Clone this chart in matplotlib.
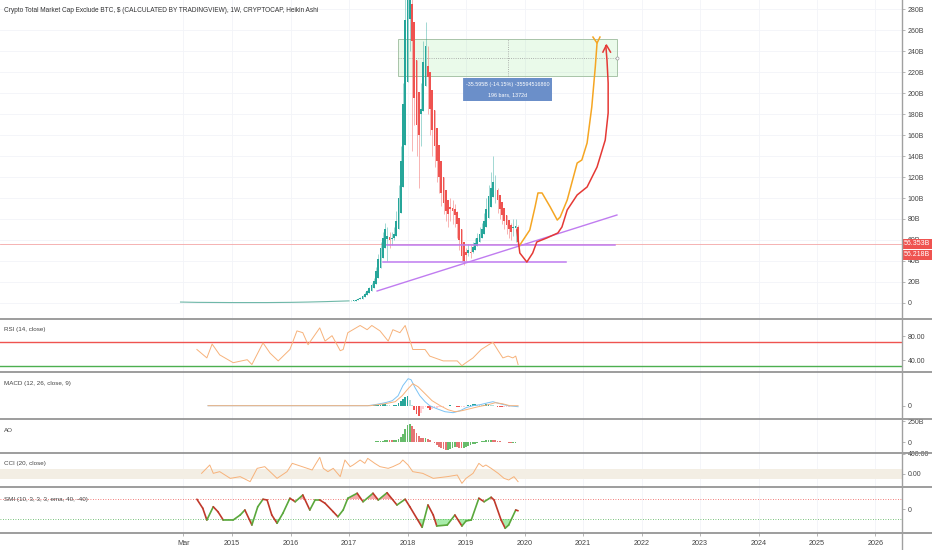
import numpy as np
import matplotlib
matplotlib.use("Agg")
import matplotlib.pyplot as plt
import matplotlib.transforms as mtransforms
from matplotlib.lines import Line2D
from matplotlib.patches import Rectangle, FancyBboxPatch
from matplotlib.collections import LineCollection

plt.rcParams['font.family'] = ['Liberation Sans', 'DejaVu Sans']

# ---- data (B = billions USD) ----
# biweekly Heikin Ashi source candles from 2017.0
price_close = [2.0, 2.2, 2.5, 3.0, 4.0, 5.0, 7.0, 9.0, 11, 14,
               17, 21, 30, 42, 52, 62, 70, 64, 60, 62,
               66, 78, 100, 135, 190, 270, 330, 300, 250, 195,
               170, 160, 185, 230, 245, 215, 185, 165, 150, 135,
               120, 105, 95, 88, 85, 90, 88, 84, 75, 60,
               45, 40, 46, 50, 48, 53, 57, 62, 66, 70,
               78, 90, 102, 110, 115, 108, 98, 90, 84, 78,
               74, 70, 68, 72, 73, 58]
price_high = [2.3, 2.5, 2.8, 3.4, 4.5, 5.6, 7.8, 10, 12.5, 15.5,
              19, 24, 34, 47, 58, 68, 76, 72, 68, 68,
              72, 88, 112, 150, 210, 300, 360, 340, 300, 250,
              200, 180, 210, 250, 268, 245, 210, 185, 165, 150,
              135, 118, 105, 98, 95, 100, 98, 94, 88, 76,
              60, 48, 52, 56, 55, 58, 62, 67, 72, 76,
              86, 100, 112, 125, 140, 122, 110, 100, 92, 86,
              80, 78, 76, 80, 80, 74]
price_low = [1.8, 2.0, 2.3, 2.7, 3.6, 4.5, 6.3, 8.0, 10, 12.5,
             15, 18, 26, 36, 46, 55, 60, 40, 52, 55,
             60, 70, 90, 120, 170, 240, 290, 240, 145, 170,
             140, 110, 150, 190, 210, 180, 160, 140, 130, 115,
             105, 92, 85, 78, 72, 78, 75, 72, 62, 50,
             40, 36, 40, 45, 43, 48, 52, 56, 60, 64,
             70, 80, 92, 100, 102, 95, 86, 80, 75, 70,
             66, 62, 60, 64, 58, 54]
ao_vals = [0.3, 0.4, 0.5, 0.6, 0.8, 1.0, 1.3, 1.6, 2.0, 2.5,
           3, 4, 6, 9, 13, 17, 21, 22, 20, 18,
           18, 22, 35, 60, 100, 150, 200, 214, 190, 150,
           105, 70, 50, 45, 48, 40, 25, 5, -15, -35,
           -55, -70, -85, -92, -90, -80, -70, -60, -62, -68,
           -72, -70, -60, -48, -38, -28, -18, -8, 0, 6,
           12, 18, 22, 24, 23, 18, 12, 6, 2, -2,
           -4, -6, -7, -7, -6, -5]
macd_hist = [0, 0, 0, 0, 0, 0, 0, 0.1, 0.2, 0.3,
             0.4, 0.5, 0.8, 1.0, 1.2, 1.5, 1.6, 1.0, 0.3, 0,
             0.3, 1.0, 2.5, 4.5, 7, 9, 10, 6, 1, -4,
             -8, -10, -7, -3, -1, -2, -4, -3.5, -2.5, -2,
             -1.5, -1.2, -1, -0.5, 0, 0.3, 0.2, -0.2, -0.8, -1.5,
             -1.5, -0.8, 0, 0.6, 1.0, 1.3, 1.3, 1.2, 1.0, 0.9,
             1.0, 1.4, 1.5, 1.2, 0.6, 0, -0.8, -1.2, -1.4, -1.2,
             -1.0, -0.8, -0.6, -0.4, -0.3, -0.5]

flat_years = [2014.12, 2014.4, 2014.7, 2015.0, 2015.3, 2015.6, 2016.0, 2016.3, 2016.6, 2017.0]
flat_vals = [0.9, 0.6, 0.5, 0.4, 0.4, 0.4, 0.6, 0.9, 1.3, 2.0]

rsi_years = [2014.40, 2014.57, 2014.66, 2014.79, 2015.02, 2015.26, 2015.34, 2015.53, 2015.65, 2015.79,
             2015.99, 2016.11, 2016.21, 2016.30, 2016.50, 2016.59, 2016.71, 2016.85, 2016.90, 2016.98,
             2017.19, 2017.31, 2017.39, 2017.53, 2017.67, 2017.75, 2017.87, 2017.96, 2018.09, 2018.30,
             2018.38, 2018.61, 2018.85, 2018.93, 2019.00, 2019.12, 2019.26, 2019.39, 2019.46, 2019.55,
             2019.63, 2019.72, 2019.80, 2019.85, 2019.89]
rsi_vals = [58, 44, 67, 49, 36, 41, 33, 69, 52, 39,
            58, 89, 86, 66, 94, 72, 81, 56, 58, 86,
            98, 91, 98, 89, 72, 91, 86, 98, 58, 58,
            47, 39, 39, 31, 36, 44, 58, 66, 70, 56,
            44, 47, 44, 47, 33]

macd_years = [2014.59, 2017.32, 2017.44, 2017.62, 2017.74, 2017.84, 2017.92, 2018.01, 2018.06, 2018.13,
              2018.21, 2018.30, 2018.38, 2018.50, 2018.64, 2018.78, 2018.90, 2019.00, 2019.12, 2019.24,
              2019.38, 2019.46, 2019.58, 2019.72, 2019.89]
macd_vals = [0, 0, 1, 3, 5, 10, 20, 27, 26, 18,
             10, 4, 0, -3, -6, -7, -5, -2, 0, 1,
             3, 4, 2, 0, -1]
signal_years = [2014.59, 2017.36, 2017.62, 2017.79, 2017.91, 2018.01, 2018.09, 2018.18, 2018.30, 2018.42,
                2018.56, 2018.69, 2018.81, 2018.93, 2019.07, 2019.21, 2019.38, 2019.50, 2019.62, 2019.75,
                2019.89]
signal_vals = [0, 0, 2, 4, 10, 17, 22, 19, 12, 5,
               0, -4, -6, -5, -3, -1, 1, 3, 2, 0,
               0]

cci_years = [2014.48, 2014.62, 2014.68, 2014.79, 2014.97, 2015.14, 2015.31, 2015.43, 2015.56, 2015.77,
             2015.94, 2016.03, 2016.20, 2016.37, 2016.42, 2016.50, 2016.56, 2016.64, 2016.73, 2016.85,
             2016.93, 2017.02, 2017.07, 2017.19, 2017.27, 2017.32, 2017.44, 2017.53, 2017.67, 2017.75,
             2017.87, 2017.92, 2018.01, 2018.09, 2018.26, 2018.44, 2018.68, 2018.85, 2018.93, 2019.00,
             2019.12, 2019.22, 2019.29, 2019.34, 2019.43, 2019.55, 2019.65, 2019.73, 2019.82, 2019.89]
cci_vals = [13, 180, 13, 47, -87, -53, -153, 113, 147, -87,
            47, 213, 147, 80, 180, 333, 113, 47, 113, -53,
            280, 147, 180, 280, 213, 313, 213, 147, 113, 147,
            213, 280, 180, 47, 13, -87, -53, -20, -187, -87,
            13, 213, 147, 180, 113, 13, -87, -120, -53, -153]

smi_years = [2014.40, 2014.50, 2014.57, 2014.68, 2014.76, 2014.85, 2015.02, 2015.14, 2015.22, 2015.34,
             2015.44, 2015.53, 2015.60, 2015.68, 2015.77, 2015.87, 2015.99, 2016.08, 2016.21, 2016.33,
             2016.42, 2016.50, 2016.59, 2016.73, 2016.81, 2016.90, 2016.98, 2017.14, 2017.24, 2017.41,
             2017.50, 2017.65, 2017.82, 2017.96, 2018.04, 2018.25, 2018.35, 2018.44, 2018.50, 2018.68,
             2018.81, 2018.93, 2019.00, 2019.09, 2019.22, 2019.31, 2019.43, 2019.48, 2019.60, 2019.67,
             2019.73, 2019.85, 2019.89]
smi_vals = [39, 3, -44, 9, -11, -44, -44, -24, -4, -64,
            9, 39, 36, -24, -57, -17, 43, 29, 56, -4,
            36, 36, 23, -11, -31, -4, 43, 63, 29, 63,
            36, 65, 16, 39, 9, -73, 16, -24, -68, -64,
            -24, -68, -48, -44, 43, 29, 47, 36, -44, -77,
            -64, -4, -7]

# drawings on the chart (year, B)
orange_x = [2019.92, 2020.09, 2020.18, 2020.23, 2020.30, 2020.44, 2020.56, 2020.61, 2020.73, 2020.90,
            2020.98, 2021.07, 2021.15, 2021.21, 2021.24]
orange_y = [55.2, 69.5, 91.4, 104.8, 104.8, 91.4, 79.0, 81.9, 98.1, 133.3,
            136.2, 152.4, 186.7, 224.8, 247.6]
red_x = [2019.87, 2019.92, 2020.04, 2020.14, 2020.21, 2020.38, 2020.57, 2020.64, 2020.73, 2020.90,
         2021.07, 2021.24, 2021.38, 2021.43, 2021.43, 2021.41, 2021.39]
red_y = [69.5, 47.6, 39.0, 47.6, 58.1, 61.9, 66.7, 72.4, 88.6, 102.9,
         110.5, 129.5, 155.2, 181.0, 209.5, 231.4, 245.0]

year_ticks = [2014.167, 2015, 2016, 2017, 2018, 2019, 2020, 2021, 2022, 2023, 2024, 2025, 2026]
year_labels = ['Mar', '2015', '2016', '2017', '2018', '2019', '2020', '2021', '2022', '2023', '2024', '2025', '2026']

# ---- layout ----
W, H = 932, 550
X0, X1 = 2011.034, 2026.453
AXR = 902
fig = plt.figure(figsize=(W / 100, H / 100), dpi=100, facecolor='white')


def panel(top, bot, ylim):
    ax = fig.add_axes([0, 1 - bot / H, AXR / W, (bot - top) / H])
    ax.set_xlim(X0, X1)
    ax.set_ylim(*ylim)
    for s in ax.spines.values():
        s.set_visible(False)
    ax.yaxis.tick_right()
    ax.tick_params(axis='y', labelsize=5, length=2, width=0.5, color='#999999',
                   labelcolor='#444444', pad=2)
    ax.set_xticks(year_ticks)
    ax.tick_params(axis='x', length=0, labelbottom=False)
    ax.grid(True, axis='x', color='#f2f4f8', lw=0.6)
    ax.set_axisbelow(True)
    return ax


ax = panel(0, 318, (-14.3, 288.6))
ax_rsi = panel(319, 372, (20.5, 108.8))
ax_macd = panel(372, 419, (-13.3, 33.7))
ax_ao = panel(419, 453, (-131, 274))
ax_cci = panel(453, 487, (-260, 420))
ax_smi = panel(487, 533, (-96, 88))

# ---- main price ----
ax.set_yticks(range(0, 281, 20))
ax.set_yticklabels(['0'] + ['%dB' % v for v in range(20, 281, 20)])
ax.grid(True, axis='y', color='#f2f4f8', lw=0.6)

dates = 2017.0 + np.arange(len(price_close)) / 26.0
ha_c = np.array(price_close, dtype=float)
ha_o = np.zeros_like(ha_c)
ha_o[0] = ha_c[0]
for i in range(1, len(ha_c)):
    ha_o[i] = (ha_o[i - 1] + ha_c[i - 1]) / 2
hi = np.maximum(np.array(price_high), np.maximum(ha_o, ha_c))
lo = np.minimum(np.array(price_low), np.minimum(ha_o, ha_c))
cols = np.where(ha_c >= ha_o, '#26a69a', '#ef5350')

ax.plot(flat_years, flat_vals, color='#6fb8a8', lw=0.8, zorder=3)
ax.vlines(dates, lo, hi, colors=cols, lw=0.6, alpha=0.5, zorder=3)
ax.bar(dates, np.abs(ha_c - ha_o), bottom=np.minimum(ha_o, ha_c), width=0.03,
       color=cols, linewidth=0, zorder=4)

# target box
ax.add_patch(Rectangle((2017.84, 216.2), 3.74, 35.2, facecolor=(0.35, 0.85, 0.35, 0.12),
                       edgecolor='#a8c4a8', lw=0.7, zorder=2))
ax.plot([2017.84, 2021.58], [233.3, 233.3], ls=':', color='#9a9a9a', lw=0.6, zorder=2)
ax.plot([2019.72, 2019.72], [216.2, 251.4], ls=':', color='#9a9a9a', lw=0.6, zorder=2)
ax.plot([2021.58], [233.3], marker='o', ms=2.2, mfc='white', mec='#9a9a9a', mew=0.5, zorder=2)
ax.add_patch(FancyBboxPatch((2018.95, 192.4), 1.52, 21.9, boxstyle='round,pad=0,rounding_size=0.03',
                            facecolor='#6b8fc9', edgecolor='none', zorder=6))
ax.text(2019.71, 208.3, '-35.595B (-14.15%) -35594516860', color='white', fontsize=3.9,
        ha='center', va='center', zorder=7)
ax.text(2019.71, 198.6, '196 bars, 1372d', color='white', fontsize=3.9,
        ha='center', va='center', zorder=7)

# trend / support lines
purple = '#c07cf0'
ax.plot([2017.65, 2021.54], [55.2, 55.2], color=purple, lw=1.1, zorder=5)
ax.plot([2017.58, 2020.71], [39.0, 39.0], color=purple, lw=1.1, zorder=5)
ax.plot([2017.48, 2021.58], [11.4, 83.8], color=purple, lw=1.0, zorder=5)

# projections
ax.plot(orange_x, orange_y, color='#f5a623', lw=1.1, solid_joinstyle='round', zorder=5)
ax.plot([2021.17, 2021.24, 2021.29], [253.3, 247.6, 253.3], color='#f5a623', lw=1.1, zorder=5)
ax.plot(red_x, red_y, color='#e53935', lw=1.1, solid_joinstyle='round', zorder=5)
ax.plot([2021.34, 2021.40, 2021.47], [239.0, 245.7, 239.0], color='#e53935', lw=1.1, zorder=5)

# last price
ax.axhline(56.35, color='#f4a6a6', lw=0.6, zorder=1)
btr = mtransforms.blended_transform_factory(ax.transAxes, ax.transData)
for yv, txt in [(56.35, '56.353B'), (45.9, '56.218B')]:
    ax.text(1.002, yv, txt, transform=btr, fontsize=5, color='white', va='center', ha='left',
            bbox=dict(boxstyle='square,pad=0.25', fc='#ef5350', ec='none'), clip_on=False, zorder=8)

# ---- RSI ----
ax_rsi.axhline(70, color='#ef5350', lw=1.0)
ax_rsi.axhline(30, color='#4caf50', lw=1.0)
ax_rsi.plot(rsi_years, rsi_vals, color='#f7b27a', lw=0.7)
ax_rsi.set_yticks([40, 80])
ax_rsi.set_yticklabels(['40.00', '80.00'])

# ---- MACD ----
mh = np.array(macd_hist, dtype=float)
prev = np.concatenate([[0.0], mh[:-1]])
mcol = np.where(mh >= 0, np.where(mh >= prev, '#26a69a', '#b2dfdb'),
                np.where(mh < prev, '#ef5350', '#ffcdd2'))
ax_macd.bar(dates, mh, width=0.03, color=mcol, linewidth=0)
ax_macd.plot(macd_years, macd_vals, color='#7cc3f5', lw=0.7)
ax_macd.plot(signal_years, signal_vals, color='#f7b27a', lw=0.7)
ax_macd.set_yticks([0])
ax_macd.set_yticklabels(['0'])

# ---- AO ----
ao = np.array(ao_vals, dtype=float)
aprev = np.concatenate([[ao[0]], ao[:-1]])
acol = np.where(ao >= aprev, '#66bb6a', '#e57373')
ax_ao.bar(dates, ao, width=0.03, color=acol, linewidth=0)
ax_ao.set_yticks([0, 250])
ax_ao.set_yticklabels(['0', '250B'])

# ---- CCI ----
ax_cci.axhspan(-100, 100, color='#f3eee4', lw=0)
ax_cci.plot(cci_years, cci_vals, color='#f7b27a', lw=0.7)
ax_cci.set_yticks([0, 400])
ax_cci.set_yticklabels(['0.00', '400.00'])

# ---- SMI ----
sx = np.array(smi_years)
sy = np.array(smi_vals, dtype=float)
ax_smi.axhline(40, color='#ef5350', lw=0.6, ls=(0, (1, 2)))
ax_smi.axhline(-40, color='#4caf50', lw=0.6, ls=(0, (1, 2)))
ax_smi.fill_between(sx, sy, 40, where=sy > 40, interpolate=True, color='#f7a8a8', lw=0)
ax_smi.fill_between(sx, sy, -40, where=sy < -40, interpolate=True, color='#a8ecaa', lw=0)
segs = [[(sx[i], sy[i]), (sx[i + 1], sy[i + 1])] for i in range(len(sx) - 1)]
scol = ['#5aa83c' if sy[i + 1] >= sy[i] else '#c0392b' for i in range(len(sx) - 1)]
ax_smi.add_collection(LineCollection(segs, colors=scol, linewidths=1.2, capstyle='round'))
ax_smi.set_yticks([0])
ax_smi.set_yticklabels(['0'])
ax_smi.set_xticklabels(year_labels)
ax_smi.tick_params(axis='x', labelbottom=True, length=2, width=0.5, color='#999999',
                   labelsize=5.2, labelcolor='#444444', pad=3)

# ---- separators and texts ----
for yp in [318.5, 372, 419, 453, 487, 533]:
    fig.add_artist(Line2D([0, 1], [1 - yp / H, 1 - yp / H], transform=fig.transFigure,
                          color='#8c8c8c', lw=1.2))
fig.add_artist(Line2D([AXR / W, AXR / W], [0, 1], transform=fig.transFigure, color='#a0a0a0', lw=1.0))

fig.text(4 / W, 1 - 10 / H,
         'Crypto Total Market Cap Exclude BTC, $ (CALCULATED BY TRADINGVIEW), 1W, CRYPTOCAP, Heikin Ashi',
         fontsize=4.7, color='#333333', va='center')
for yp, txt in [(330, 'RSI (14, close)'), (383, 'MACD (12, 26, close, 9)'), (430, 'AO'),
                (463, 'CCI (20, close)'), (499, 'SMI (10, 3, 3, 3, ema, 40, -40)')]:
    fig.text(4 / W, 1 - yp / H, txt, fontsize=4.5, color='#444444', va='center')

fig.savefig('out.png', dpi=100, facecolor='white')
